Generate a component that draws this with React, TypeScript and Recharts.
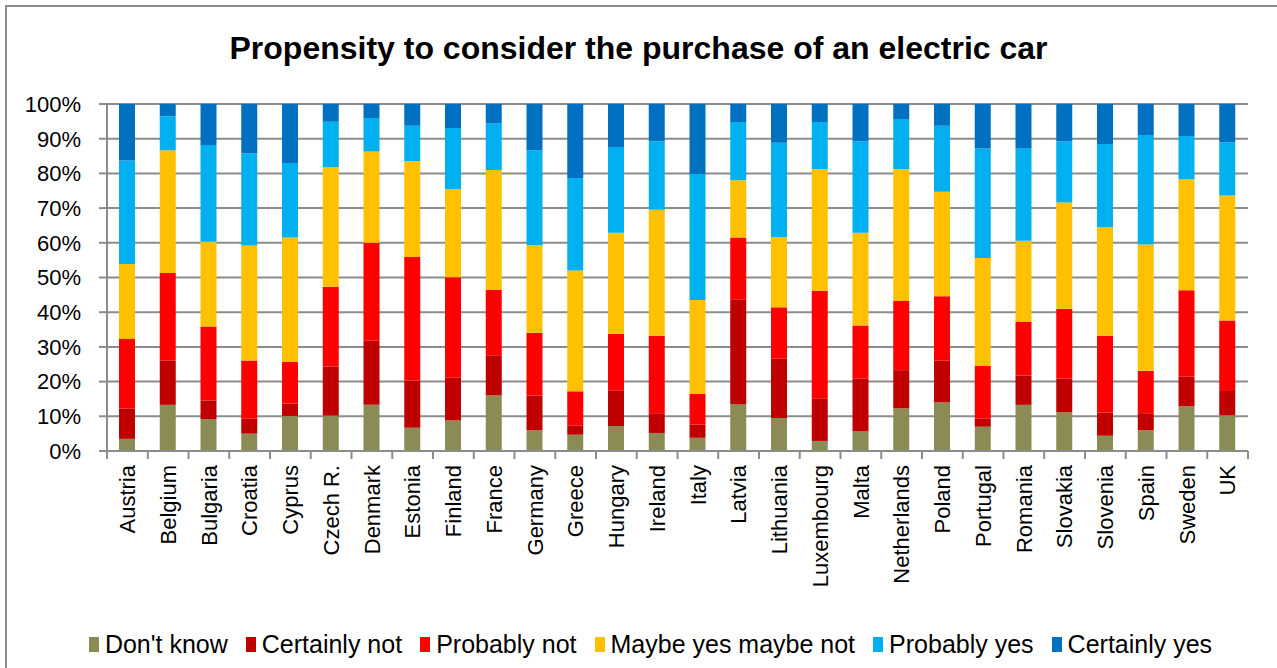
import { BarChart, Bar, XAxis, YAxis, CartesianGrid, Legend } from 'recharts';

const countries = ['Austria', 'Belgium', 'Bulgaria', 'Croatia', 'Cyprus', 'Czech R.', 'Denmark', 'Estonia', 'Finland', 'France', 'Germany', 'Greece', 'Hungary', 'Ireland', 'Italy', 'Latvia', 'Lithuania', 'Luxembourg', 'Malta', 'Netherlands', 'Poland', 'Portugal', 'Romania', 'Slovakia', 'Slovenia', 'Spain', 'Sweden', 'UK'];

const dontKnow = [3.5, 13.3, 9.2, 5.0, 10.1, 10.2, 13.3, 6.7, 8.8, 16.0, 6.0, 4.7, 7.2, 5.2, 3.8, 13.5, 9.5, 2.9, 5.6, 12.3, 14.0, 7.0, 13.3, 11.2, 4.4, 6.0, 12.9, 10.3];
const certainlyNot = [8.8, 12.8, 5.4, 4.4, 3.6, 14.2, 18.5, 13.6, 12.4, 11.6, 10.0, 2.7, 10.3, 5.7, 3.8, 30.2, 17.2, 12.3, 15.2, 11.0, 12.0, 2.4, 8.5, 9.6, 6.7, 4.9, 8.5, 7.0];
const probablyNot = [20.0, 25.2, 21.3, 16.7, 12.0, 22.9, 28.2, 35.6, 28.9, 18.9, 18.1, 9.8, 16.3, 22.3, 8.9, 17.8, 14.7, 31.0, 15.4, 19.9, 18.6, 15.1, 15.4, 20.2, 22.1, 12.2, 24.9, 20.3];
const maybe = [21.6, 35.4, 24.4, 33.1, 35.8, 34.5, 26.3, 27.7, 25.3, 34.5, 25.3, 34.8, 29.1, 36.3, 27.0, 16.5, 20.2, 35.1, 26.7, 38.1, 30.1, 31.1, 23.4, 30.6, 31.3, 36.4, 32.0, 36.0];
const probablyYes = [29.8, 9.8, 27.9, 26.6, 21.5, 13.1, 9.7, 10.1, 17.7, 13.4, 27.3, 26.7, 24.7, 19.8, 36.3, 16.8, 27.2, 13.5, 26.4, 14.4, 19.0, 31.6, 26.7, 17.6, 24.0, 31.6, 12.5, 15.4];
const certainlyYes = [16.3, 3.5, 11.8, 14.2, 17.0, 5.1, 4.0, 6.3, 6.9, 5.6, 13.3, 21.3, 12.4, 10.7, 20.2, 5.2, 11.2, 5.2, 10.7, 4.3, 6.3, 12.8, 12.7, 10.8, 11.5, 8.9, 9.2, 11.0];

const yTicks = [0, 10, 20, 30, 40, 50, 60, 70, 80, 90, 100];

const series = [
  { key: 'dk', name: "Don't know", color: '#8B8B55', values: dontKnow },
  { key: 'cn', name: 'Certainly not', color: '#C00000', values: certainlyNot },
  { key: 'pn', name: 'Probably not', color: '#FF0000', values: probablyNot },
  { key: 'my', name: 'Maybe yes maybe not', color: '#FFC000', values: maybe },
  { key: 'py', name: 'Probably yes', color: '#00B0F0', values: probablyYes },
  { key: 'cy', name: 'Certainly yes', color: '#0070C0', values: certainlyYes },
];

const data = countries.map((country, i) => {
  const row: { [key: string]: string | number } = { country };
  series.forEach(s => { row[s.key] = s.values[i]; });
  return row;
});

const W = 1277;
const H = 668;
const LEFT = 107;
const RIGHT = 1248;
const FONT = "'Liberation Sans', Arial, sans-serif";
const GRID = '#8c8c8c';
const band = (RIGHT - LEFT) / countries.length;

function CountryTick(props: any) {
  const { x, y, payload, index } = props;
  return (
    <g>
      <line x1={x - band / 2} x2={x - band / 2} y1={y - 8} y2={y} stroke={GRID} strokeWidth={2} />
      {index === countries.length - 1 && (
        <line x1={x + band / 2} x2={x + band / 2} y1={y - 8} y2={y} stroke={GRID} strokeWidth={2} />
      )}
      <text
        x={x}
        y={y + 6}
        dy="0.35em"
        transform={`rotate(-90, ${x}, ${y + 6})`}
        textAnchor="end"
        fontFamily={FONT}
        fontSize={22}
        fill="#000"
      >
        {payload.value}
      </text>
    </g>
  );
}

// legend keeps the series order instead of recharts' sorted payload
function LegendBox() {
  return (
    <div style={{ display: 'flex', justifyContent: 'center', alignItems: 'center', gap: 18, paddingLeft: 24, fontFamily: FONT, fontSize: 25, color: '#000' }}>
      {series.map(s => (
        <div key={s.key} style={{ display: 'flex', alignItems: 'center' }}>
          <span style={{ display: 'inline-block', width: 10, height: 15, background: s.color, marginRight: 6 }} />
          <span>{s.name}</span>
        </div>
      ))}
    </div>
  );
}

export default function App() {
  return (
    <div style={{ position: 'absolute', left: 0, top: 0, width: W, height: H, background: '#fff', overflow: 'hidden' }}>
      <div style={{ position: 'absolute', left: 5, top: 5, width: W + 20, height: H + 20, borderLeft: `2px solid ${GRID}`, borderTop: `2px solid ${GRID}` }} />
      <div style={{ position: 'absolute', left: 0, top: 30, width: W, textAlign: 'center', fontFamily: FONT, fontWeight: 'bold', fontSize: 32, lineHeight: '36px', color: '#000' }}>
        Propensity to consider the purchase of an electric car
      </div>
      <BarChart
        width={W}
        height={H}
        data={data}
        margin={{ top: 104, right: W - RIGHT, left: 0, bottom: 67 }}
        barSize={16}
      >
        <CartesianGrid vertical={false} stroke={GRID} strokeWidth={2} />
        <XAxis
          dataKey="country"
          interval={0}
          height={150}
          tickSize={8}
          tickMargin={0}
          tickLine={false}
          axisLine={{ stroke: GRID, strokeWidth: 2 }}
          tick={<CountryTick />}
        />
        <YAxis
          width={LEFT}
          domain={[0, 100]}
          ticks={yTicks}
          allowDataOverflow
          tickFormatter={(v: number) => `${v}%`}
          tickSize={8}
          tickMargin={18}
          tickLine={{ stroke: GRID, strokeWidth: 2 }}
          axisLine={{ stroke: GRID, strokeWidth: 2 }}
          tick={{ fill: '#000', fontSize: 22, fontFamily: FONT }}
        />
        <Legend
          verticalAlign="middle"
          layout="horizontal"
          align="center"
          content={<LegendBox />}
          wrapperStyle={{ position: 'absolute', left: 0, top: 630, width: W }}
        />
        {series.map(s => (
          <Bar key={s.key} dataKey={s.key} name={s.name} stackId="a" fill={s.color} isAnimationActive={false} />
        ))}
      </BarChart>
    </div>
  );
}
